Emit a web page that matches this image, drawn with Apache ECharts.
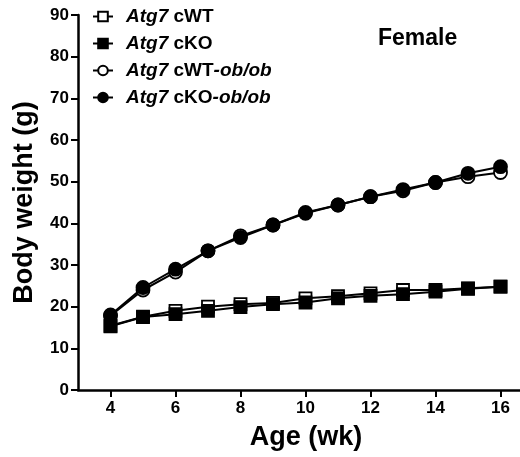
<!DOCTYPE html>
<html><head><meta charset="utf-8">
<script src="https://cdn.jsdelivr.net/npm/echarts@6/dist/echarts.min.js"></script>
<style>html,body{margin:0;padding:0;background:#fff}#c{width:520px;height:457px}</style>
</head><body><div id="c"></div>
<script>
const weeks = [4,5,6,7,8,9,10,11,12,13,14,15,16];
const cWT =      [15.4,17.6,19.0,20.0,20.6,20.9,22.0,22.5,23.2,24.0,24.0,24.4,24.8];
const cKO =      [15.3,17.5,18.2,19.0,19.9,20.6,21.0,22.0,22.6,23.0,23.6,24.3,24.8];
const cWTobob =  [17.8,24.0,28.3,33.4,37.0,39.6,42.6,44.4,46.4,47.8,49.8,51.2,52.2];
const cKOobob =  [18.0,24.6,29.0,33.4,36.6,39.6,42.4,44.4,46.4,48.1,49.8,52.0,53.6];
const seriesNames = ['Atg7 cWT','Atg7 cKO','Atg7 cWT-ob/ob','Atg7 cKO-ob/ob'];
const xTicks = [4,6,8,10,12,14,16];
const yTicks = [0,10,20,30,40,50,60,70,80,90];

const FONT = 'Liberation Sans, Arial, sans-serif';
const chart = echarts.init(document.getElementById('c'), null, {renderer:'canvas'});
function pairs(v){ return weeks.map((w,i)=>[w,v[i]]); }
function mk(name, data, symbol, filled, size){
  return {
    name, type:'line', data: pairs(data), symbol, symbolSize: size,
    lineStyle:{color:'#000', width:2},
    itemStyle:{color: filled ? '#000' : '#fff', borderColor:'#000', borderWidth:1.8},
    emphasis:{disabled:true}, animation:false
  };
}
chart.setOption({
  animation:false,
  grid:{left:78, right:0, top:15, bottom:67},
  legend:{
    orient:'vertical', left:87, top:2, itemGap:8, itemWidth:20, itemHeight:12,
    data: seriesNames,
    formatter: function(name){
      const p = name.split(' ');
      const rest = p[1];
      const idx = rest.indexOf('-');
      if(idx>=0) return '{i|'+p[0]+'}{b| '+rest.slice(0,idx)+'}{i|'+rest.slice(idx)+'}';
      return '{i|'+p[0]+'}{b| '+rest+'}';
    },
    textStyle:{
      fontFamily:FONT, fontSize:19, color:'#000', padding:[0,0,0,8],
      rich:{
        i:{fontFamily:FONT, fontSize:19, lineHeight:19, fontWeight:'bold', fontStyle:'italic', color:'#000'},
        b:{fontFamily:FONT, fontSize:19, lineHeight:19, fontWeight:'bold', color:'#000'}
      }
    }
  },
  graphic:[{type:'text', left:378, top:27, style:{text:'Female', font:'bold 23px '+FONT, fill:'#000'}}],
  xAxis:{
    type:'value', min:3, max:16.6,
    name:'Age (wk)', nameLocation:'middle', nameGap:34,
    nameTextStyle:{fontFamily:FONT, fontSize:27, fontWeight:'bold', color:'#000', padding:[0,0,0,14]},
    axisLine:{onZero:false, lineStyle:{color:'#000', width:2.5}},
    axisTick:{show:true, length:7, lineStyle:{color:'#000', width:2}, customValues: xTicks},
    axisLabel:{customValues: xTicks, fontFamily:FONT, fontSize:17, fontWeight:'bold', color:'#000', margin:10},
    splitLine:{show:false}
  },
  yAxis:{
    type:'value', min:0, max:90, interval:10,
    name:'Body weight (g)', nameLocation:'middle', nameGap:40,
    nameTextStyle:{fontFamily:FONT, fontSize:27, fontWeight:'bold', color:'#000'},
    axisLine:{show:true, lineStyle:{color:'#000', width:2.5}},
    axisTick:{show:true, length:7, lineStyle:{color:'#000', width:2}},
    axisLabel:{fontFamily:FONT, fontSize:17, fontWeight:'bold', color:'#000', margin:9},
    splitLine:{show:false}
  },
  series:[
    mk(seriesNames[0], cWT, 'rect', false, 12),
    mk(seriesNames[1], cKO, 'rect', true, 12),
    mk(seriesNames[2], cWTobob, 'circle', false, 13),
    mk(seriesNames[3], cKOobob, 'circle', true, 13)
  ]
});
</script></body></html>
